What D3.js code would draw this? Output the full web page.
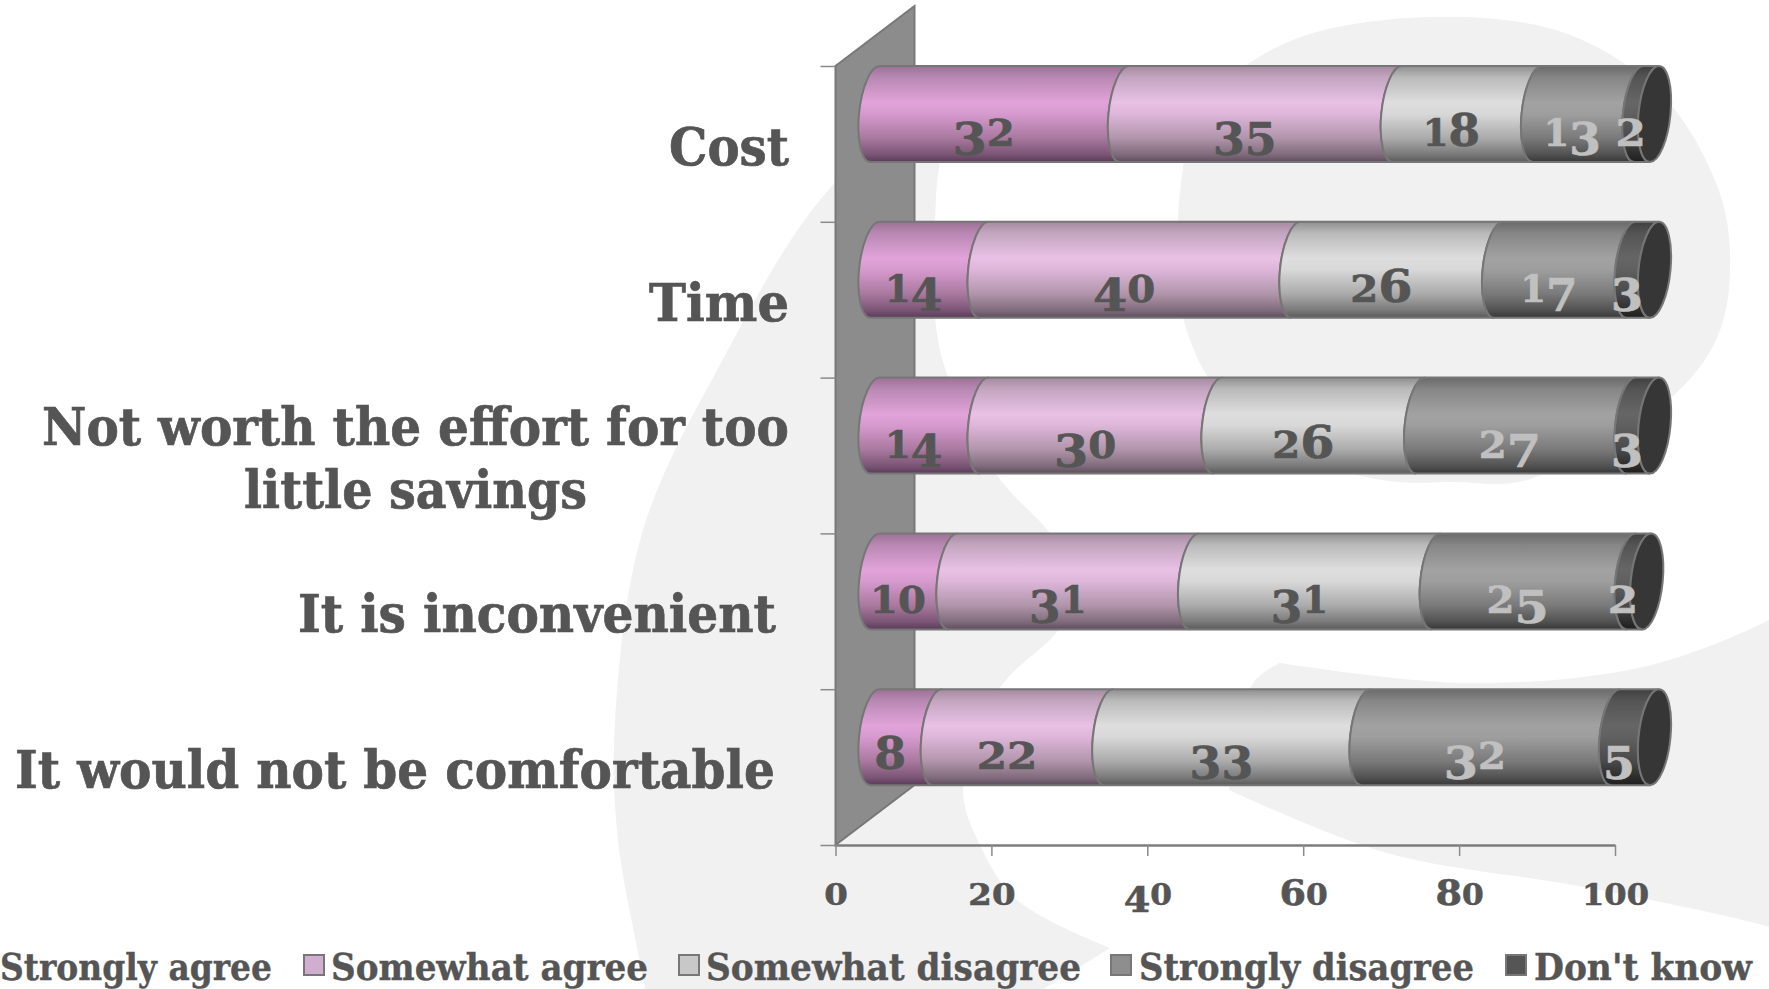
<!DOCTYPE html>
<html>
<head>
<meta charset="utf-8">
<title>Barriers</title>
<script src="https://cdn.jsdelivr.net/npm/d3@7"></script>
<style>
  html, body { margin: 0; padding: 0; background: #fff; overflow: hidden; }
  text { font-family: "DejaVu Serif", serif; font-weight: bold; fill: #555; }
</style>
</head>
<body>
<div id="chart"></div>
<script>
const categories = ["Cost", "Time", "Not worth the effort for too little savings", "It is inconvenient", "It would not be comfortable"];
const seriesNames = ["Strongly agree", "Somewhat agree", "Somewhat disagree", "Strongly disagree", "Don't know"];

const stronglyAgree = [32, 14, 14, 10, 8];
const somewhatAgree = [35, 40, 30, 31, 22];
const somewhatDisagree = [18, 26, 26, 31, 33];
const stronglyDisagree = [13, 17, 27, 25, 32];
const dontKnow = [2, 3, 3, 2, 5];
const seriesValues = [stronglyAgree, somewhatAgree, somewhatDisagree, stronglyDisagree, dontKnow];

const xTicks = [0, 20, 40, 60, 80, 100];

// cylinder shading, one ramp per series: top edge -> highlight -> bottom edge
const ramps = [
  ["#9d7197", "#b888b2", "#e2a3da", "#d69ace", "#a9799f", "#7b5575", "#5a3a58"],
  ["#a58aa0", "#c3a5bf", "#e9c1e6", "#ddb6d9", "#b195ab", "#806c7c", "#5e4c5c"],
  ["#8f8f8f", "#bababa", "#dedede", "#d8d8d8", "#ababab", "#7a7a7a", "#5a5a5a"],
  ["#6a6a6a", "#868686", "#a2a2a2", "#9e9e9e", "#7a7a7a", "#525252", "#383838"],
  ["#404040", "#545454", "#666666", "#606060", "#4a4a4a", "#2c2c2c", "#1e1e1e"]
];
const rampOffsets = [0, 0.12, 0.38, 0.5, 0.75, 0.92, 1];
const swatchColors = ["#dd9fd5", "#d0aed0", "#c8c8c8", "#8e8e8e", "#555555"];
const labelColors = ["#555", "#555", "#555", "#c0c0c0", "#c0c0c0"];

const width = 1769, height = 989;
const plotLeft = 835.5, plotRight = 1615, plotTop = 66, plotBottom = 845;
const barHeight = 96, barShift = 23.5;   // bars float in front of the wall
const capRx = 16, capLean = 4.5;
const wallDx = 79, wallDy = 60;

const svg = d3.select("#chart").append("svg")
  .attr("width", width)
  .attr("height", height);

// pale logo behind everything; doubled points keep the corners sharp
const blob = d3.line().curve(d3.curveCatmullRom.alpha(0.5));
const logoShapes = [
  [[645, 995], [645, 989], [618, 840], [615, 722], [643, 530], [722, 361], [820, 200], [914, 115], [960, 100],
   [940, 162], [935, 222], [935, 318], [948, 377], [997, 475], [1050, 533], [1085, 585], [1057, 632],
   [1000, 688], [963, 787], [980, 845], [1017, 900], [1110, 948], [1110, 948], [1110, 948], [1043, 989], [1030, 995]],
  [[1183, 318], [1202, 367], [1260, 440], [1382, 480], [1454, 482], [1527, 480], [1672, 397], [1719, 333],
   [1730, 252], [1716, 183], [1662, 95], [1562, 32], [1408, 18], [1277, 47], [1200, 114], [1177, 233], [1183, 318]],
  [[1229, 790], [1253, 683], [1280, 663], [1280, 663], [1280, 663], [1466, 683], [1643, 667], [1769, 620], [1800, 600],
   [1800, 940], [1769, 927], [1584, 887], [1387, 853], [1229, 790]]
];
svg.append("g").selectAll("path")
  .data(logoShapes)
  .join("path")
    .attr("d", d => blob(d) + "Z")
    .attr("fill", "#f1f1f1");

const x = d3.scaleLinear().domain([0, 100]).range([plotLeft, plotRight]);
const y = d3.scaleBand().domain(categories).range([plotTop, plotBottom]);
const yEdges = d3.scaleLinear().domain([0, categories.length]).range([plotTop, plotBottom]);

// gradients
const defs = svg.append("defs");
ramps.forEach((ramp, i) => {
  const g = defs.append("linearGradient")
    .attr("id", "ramp" + i)
    .attr("x1", 0).attr("y1", 0).attr("x2", 0).attr("y2", 1);
  ramp.forEach((c, j) => g.append("stop").attr("offset", rampOffsets[j]).attr("stop-color", c));
});

// digits in the old-style look: small ones sit on the baseline, some hang below it
function setDigits(sel, size) {
  sel.each(function(d) {
    const str = String(d);
    const t = d3.select(this).text(null);
    let prev = 0, advance = 0;
    for (const ch of str) {
      const small = "012".includes(ch);
      const hang = "34579".includes(ch);
      const shift = hang ? size * 0.19 : 0;
      t.append("tspan")
        .attr("font-size", small ? size * 0.76 : size * 0.93)
        .attr("dy", shift - prev)
        .text(ch);
      prev = shift;
      advance += (ch === "1" ? 0.52 : small ? 0.62 : 0.65) * size;
    }
    t.attr("textLength", advance).attr("lengthAdjust", "spacingAndGlyphs");
  });
}

// wall
svg.append("path")
  .attr("d", d3.line()([
    [plotLeft, plotTop], [plotLeft + wallDx, plotTop - wallDy],
    [plotLeft + wallDx, plotBottom - wallDy], [plotLeft, plotBottom]
  ]) + "Z")
  .attr("fill", "#8c8c8c")
  .attr("stroke", "#787878")
  .attr("stroke-width", 2);

// axes
const xAxis = svg.append("g")
  .attr("transform", `translate(0,${plotBottom})`)
  .call(d3.axisBottom(x).tickValues(xTicks).tickSize(11).tickSizeOuter(0));
xAxis.select(".domain").attr("stroke", "#7c7c7c").attr("stroke-width", 2.5);
xAxis.selectAll(".tick line").attr("stroke", "#8a8a8a").attr("stroke-width", 1.5);
xAxis.attr("font-family", null).attr("font-size", null);
xAxis.selectAll(".tick text")
  .attr("y", 60).attr("dy", 0)
  .style("stroke", "#555").style("stroke-width", 0.6)
  .call(setDigits, 38);

const yAxis = svg.append("g")
  .attr("transform", `translate(${plotLeft},0)`)
  .call(d3.axisLeft(yEdges).ticks(categories.length).tickFormat("").tickSize(15).tickSizeOuter(0));
yAxis.select(".domain").remove();
yAxis.selectAll(".tick line").attr("stroke", "#8a8a8a").attr("stroke-width", 1.5);

// one curved rim of the cylinder, walked from the top edge down to the bottom edge
const k = 0.5523;
function rimDown(px, y0) {
  const ry = barHeight / 2, ym = y0 + ry, cx = px + capRx;
  return `C${cx - capRx * k + capLean},${y0} ${px + capLean * k},${ym - ry * k} ${px},${ym}` +
         `C${px - capLean * k},${ym + ry * k} ${cx - capRx * k - capLean},${y0 + barHeight} ${cx - capLean},${y0 + barHeight}`;
}
function rimUp(px, y0) {
  const ry = barHeight / 2, ym = y0 + ry, cx = px + capRx;
  return `C${cx - capRx * k - capLean},${y0 + barHeight} ${px - capLean * k},${ym + ry * k} ${px},${ym}` +
         `C${px + capLean * k},${ym - ry * k} ${cx - capRx * k + capLean},${y0} ${cx + capLean},${y0}`;
}
function capPath(px, y0) {
  const ry = barHeight / 2, ym = y0 + ry, cx = px + capRx;
  return `M${cx + capLean},${y0}` + rimDown(px, y0) +
         `C${cx + capRx * k - capLean},${y0 + barHeight} ${px + 2 * capRx - capLean * k},${ym + ry * k} ${px + 2 * capRx},${ym}` +
         `C${px + 2 * capRx + capLean * k},${ym - ry * k} ${cx + capRx * k + capLean},${y0} ${cx + capLean},${y0}Z`;
}

const px = v => x(v) + barShift;

const segments = [];
categories.forEach((c, i) => {
  let sum = 0;
  seriesValues.forEach((vals, s) => {
    segments.push({ cat: c, series: s, start: sum, value: vals[i] });
    sum += vals[i];
  });
});

svg.append("g").selectAll("path")
  .data(segments)
  .join("path")
    .attr("d", d => {
      const y0 = y(d.cat), a = px(d.start), b = px(d.start + d.value);
      return `M${a + capRx + capLean},${y0}` + rimDown(a, y0) +
             `L${b + capRx - capLean},${y0 + barHeight}` + rimUp(b, y0) + "Z";
    })
    .attr("fill", d => `url(#ramp${d.series})`)
    .attr("stroke", "#767676")
    .attr("stroke-width", 2);

// open end of each cylinder
svg.append("g").selectAll("path")
  .data(categories)
  .join("path")
    .attr("d", (c, i) => capPath(px(d3.sum(seriesValues, vals => vals[i])), y(c)))
    .attr("fill", "#363636")
    .attr("stroke", "#767676")
    .attr("stroke-width", 2);

// value labels
svg.append("g").selectAll("text")
  .data(segments)
  .join("text")
    .attr("x", d => px(d.start + d.value / 2))
    .attr("y", d => y(d.cat) + 80)
    .attr("text-anchor", "middle")
    .style("fill", d => labelColors[d.series])
    .style("stroke", d => labelColors[d.series])
    .style("stroke-width", 0.7)
    .datum(d => d.value)
    .call(setDigits, 49);

// category labels, the long one wraps over two lines
const categoryLines = [
  { text: "Cost", left: 669, w: 120, base: 165 },
  { text: "Time", left: 649, w: 140, base: 321 },
  { text: "Not worth the effort for too", left: 42, w: 747, base: 445 },
  { text: "little savings", left: 244, w: 343, base: 508 },
  { text: "It is inconvenient", left: 298, w: 478, base: 632 },
  { text: "It would not be comfortable", left: 15, w: 760, base: 788 }
];
svg.append("g").selectAll("text")
  .data(categoryLines)
  .join("text")
    .attr("x", d => d.left)
    .attr("y", d => d.base)
    .attr("font-size", 53)
    .attr("textLength", d => d.w)
    .attr("lengthAdjust", "spacingAndGlyphs")
    .style("stroke", "#555")
    .style("stroke-width", 0.7)
    .text(d => d.text);

// legend
const legendSlots = [
  { swatch: -30, left: 0, w: 272 },
  { swatch: 304, left: 331, w: 317 },
  { swatch: 679, left: 706, w: 375 },
  { swatch: 1111, left: 1139, w: 335 },
  { swatch: 1506, left: 1534, w: 218 }
];
const legend = svg.append("g").selectAll("g")
  .data(seriesNames)
  .join("g");
legend.append("rect")
  .attr("x", (d, i) => legendSlots[i].swatch)
  .attr("y", 955)
  .attr("width", 20)
  .attr("height", 20)
  .attr("fill", (d, i) => swatchColors[i])
  .attr("stroke", "#777")
  .attr("stroke-width", 2);
legend.append("text")
  .attr("x", (d, i) => legendSlots[i].left)
  .attr("y", 980)
  .attr("font-size", 37)
  .attr("textLength", (d, i) => legendSlots[i].w)
  .attr("lengthAdjust", "spacingAndGlyphs")
  .style("stroke", "#555")
  .style("stroke-width", 0.4)
  .text(d => d);
</script>
</body>
</html>
